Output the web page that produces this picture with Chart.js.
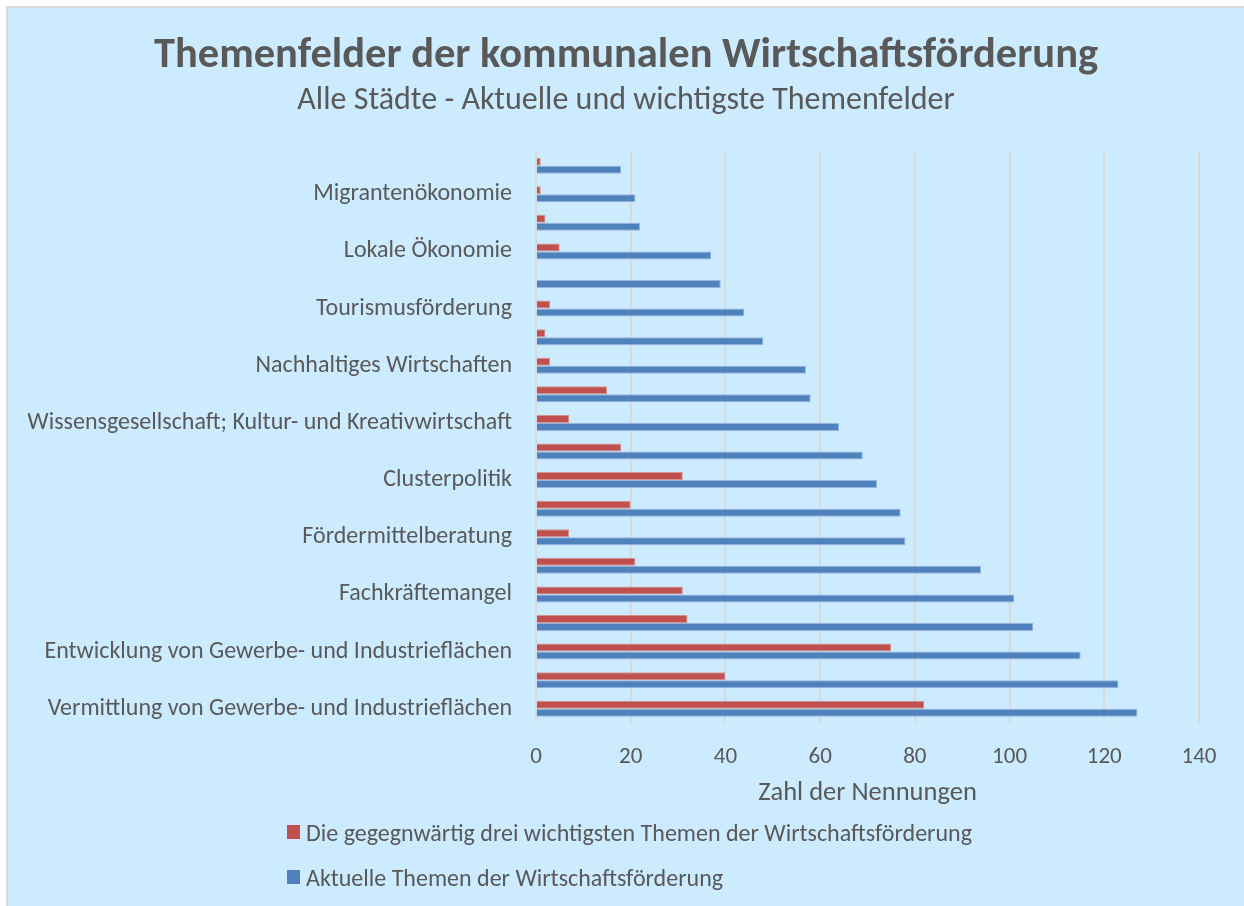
<!DOCTYPE html>
<html lang="de">
<head>
<meta charset="utf-8">
<title>Themenfelder der kommunalen Wirtschaftsförderung</title>
<script src="https://cdn.jsdelivr.net/npm/chart.js@4.4.1/dist/chart.umd.min.js"></script>
<style>
  html, body { margin: 0; padding: 0; background: #fff; }
  #frame {
    position: absolute; left: 6px; top: 6px;
    width: 1236px; height: 898px;
    background: #CCEBFF;
    border-left: 2px solid #D9D9D9;
    border-top: 2px solid #D9D9D9;
  }
  #wrap { position: absolute; left: 0; top: 0; width: 1236px; height: 898px; }
  #legend { position: absolute; left: 279px; top: 817px; font-family: Carlito, Lato, sans-serif; font-size: 24px; color: #595959; }
  #legend .item { display: flex; align-items: center; height: 14px; margin-bottom: 31px; white-space: nowrap; }
  #legend .box { width: 13px; height: 14px; margin-right: 6px; }
</style>
</head>
<body>
<div id="frame">
  <div id="wrap"><canvas id="chart"></canvas></div>
  <div id="legend"></div>
</div>
<script>
(function() {
    'use strict';

    // Categories top to bottom; unlabeled rows are skipped in the original.
    var categories = [
        '', 'Migrantenökonomie', '', 'Lokale Ökonomie', '', 'Tourismusförderung',
        '', 'Nachhaltiges Wirtschaften', '', 'Wissensgesellschaft; Kultur- und Kreativwirtschaft',
        '', 'Clusterpolitik', '', 'Fördermittelberatung', '', 'Fachkräftemangel',
        '', 'Entwicklung von Gewerbe- und Industrieflächen', '', 'Vermittlung von Gewerbe- und Industrieflächen'
    ];
    var topThree = [1, 1, 2, 5, 0, 3, 2, 3, 15, 7, 18, 31, 20, 7, 21, 31, 32, 75, 40, 82];
    var current = [18, 21, 22, 37, 39, 44, 48, 57, 58, 64, 69, 72, 77, 78, 94, 101, 105, 115, 123, 127];
    var xTicks = [0, 20, 40, 60, 80, 100, 120, 140];

    var textColor = '#595959';
    var redColor = '#C0504D';
    var blueColor = '#4F81BD';
    var fontFamily = 'Carlito, Lato, sans-serif';

    // Center title and subtitle on the whole canvas, not on the padded area.
    var fullWidthTitles = {
        id: 'fullWidthTitles',
        afterLayout: function(chart) {
            chart.boxes.forEach(function(box) {
                if (box.position === 'top' && !box.axis) {
                    box.left = 0;
                    box.right = chart.width;
                    box.width = chart.width;
                }
            });
        }
    };

    var chart = new Chart(document.getElementById('chart').getContext('2d'), {
        type: 'bar',
        data: {
            labels: categories,
            datasets: [{
                label: 'Die gegegnwärtig drei wichtigsten Themen der Wirtschaftsförderung',
                data: topThree,
                backgroundColor: redColor,
                borderColor: '#D4918F',
                borderWidth: 1,
                categoryPercentage: 0.56,
                barPercentage: 1
            }, {
                label: 'Aktuelle Themen der Wirtschaftsförderung',
                data: current,
                backgroundColor: blueColor,
                borderColor: '#93B3DC',
                borderWidth: 1,
                categoryPercentage: 0.56,
                barPercentage: 1
            }]
        },
        plugins: [fullWidthTitles],
        options: {
            indexAxis: 'y',
            responsive: true,
            maintainAspectRatio: false,
            animation: false,
            layout: { padding: { left: 20, right: 45, top: 0, bottom: 97 } },
            plugins: {
                legend: { display: false },
                tooltip: { enabled: false },
                title: {
                    display: true,
                    text: 'Themenfelder der kommunalen Wirtschaftsförderung',
                    color: textColor,
                    font: { family: fontFamily, size: 42.5, weight: 'bold' },
                    padding: { top: 23, bottom: 0 }
                },
                subtitle: {
                    display: true,
                    text: 'Alle Städte - Aktuelle und wichtigste Themenfelder',
                    color: textColor,
                    font: { family: fontFamily, size: 32 },
                    padding: { top: 0, bottom: 31 }
                }
            },
            scales: {
                x: {
                    min: 0,
                    max: 140,
                    afterBuildTicks: function(scale) {
                        scale.ticks = xTicks.map(function(v) { return { value: v }; });
                    },
                    afterFit: function(scale) { scale.height = 86; },
                    grid: { color: '#D9D9D9', lineWidth: 2, drawTicks: false },
                    border: { display: false },
                    ticks: { color: textColor, font: { family: fontFamily, size: 23 }, padding: 20 },
                    title: {
                        display: true,
                        text: 'Zahl der Nennungen',
                        color: textColor,
                        font: { family: fontFamily, size: 26.5 },
                        padding: { top: 0, bottom: 0 }
                    }
                },
                y: {
                    afterFit: function(scale) { scale.width = 508; },
                    grid: { display: false, drawTicks: false },
                    border: { display: false },
                    ticks: { color: textColor, font: { family: fontFamily, size: 24 }, padding: 24, autoSkip: false }
                }
            }
        }
    });

    // Legend, one item per line as in the original.
    var legend = document.getElementById('legend');
    chart.data.datasets.forEach(function(ds) {
        var item = document.createElement('div');
        item.className = 'item';
        var box = document.createElement('span');
        box.className = 'box';
        box.style.background = ds.backgroundColor;
        item.appendChild(box);
        item.appendChild(document.createTextNode(ds.label));
        legend.appendChild(item);
    });
})();
</script>
</body>
</html>
